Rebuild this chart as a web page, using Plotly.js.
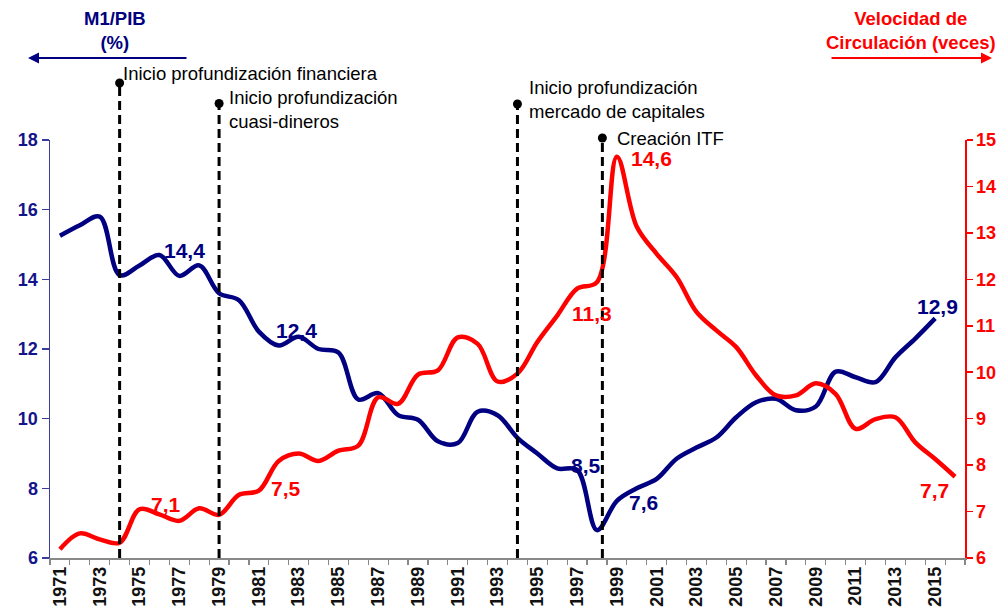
<!DOCTYPE html>
<html>
<head>
<meta charset="utf-8">
<script src="https://cdn.plot.ly/plotly-3.0.1.min.js"></script>
<style>html,body{margin:0;padding:0;background:#fff;}#chart{width:1006px;height:616px;}</style>
</head>
<body>
<div id="chart"></div>
<script>
// ---- data ----
var years = ['1971','1972','1973','1974','1975','1976','1977','1978','1979','1980',
             '1981','1982','1983','1984','1985','1986','1987','1988','1989','1990',
             '1991','1992','1993','1994','1995','1996','1997','1998','1999','2000',
             '2001','2002','2003','2004','2005','2006','2007','2008','2009','2010',
             '2011','2012','2013','2014','2015','2016'];

// M1/PIB (%) 1971-2015
var m1pib = [15.25,15.55,15.8,14.12,14.4,14.7,14.1,14.4,13.6,13.4,
             12.5,12.1,12.35,12.0,11.9,10.55,10.73,10.1,9.97,9.35,
             9.3,10.2,10.1,9.45,9.0,8.57,8.53,6.8,7.64,8.0,
             8.27,8.85,9.17,9.46,10.04,10.47,10.57,10.24,10.35,11.35,
             11.19,11.05,11.76,12.3,12.88];

// Velocidad de circulación (veces) 1971-2016
var velocidad = [6.19,6.53,6.4,6.33,7.05,6.94,6.8,7.07,6.93,7.36,
                 7.45,8.09,8.25,8.09,8.31,8.42,9.46,9.32,9.95,10.04,
                 10.75,10.61,9.8,9.97,10.65,11.22,11.8,11.94,14.64,13.13,
                 12.55,12.05,11.3,10.9,10.54,9.93,9.5,9.5,9.76,9.53,
                 8.78,8.99,9.03,8.49,8.13,7.75];

// tick labels (every other year)
var tickLabels = years.map(function(y, i){ return i % 2 === 0 ? y : ''; });

// point labels
var m1Labels = [
  {year:'1978', text:'14,4', dx:-15, dy:15},
  {year:'1983', text:'12,4', dx:-2,  dy:6},
  {year:'1997', text:'8,5',  dx:9,   dy:4},
  {year:'1999', text:'7,6',  dx:27,  dy:-2},
  {year:'2015', text:'12,9', dx:2,   dy:12}
];
var velLabels = [
  {year:'1976', text:'7,1',  dx:7,   dy:10},
  {year:'1981', text:'7,5',  dx:27,  dy:2},
  {year:'1997', text:'11,3', dx:15,  dy:-25},
  {year:'1999', text:'14,6', dx:35,  dy:-2},
  {year:'2016', text:'7,7',  dx:-21, dy:-14}
];

// events (vertical markers)
var events = [
  {pos:3,     top:83,    text:'Inicio profundización financiera', tx:1,  ty:73},
  {pos:8,     top:103.5, text:'Inicio profundización<br>cuasi-dineros', tx:8, ty:110},
  {pos:23,    top:104,   text:'Inicio profundización<br>mercado de capitales', tx:10, ty:99},
  {pos:27.27, top:138,   text:'Creación ITF', tx:13, ty:138}
];

// ---- layout helpers ----
var NAVY = '#000080', RED = '#ff0000';
var FONT = 'Arial, "Liberation Sans", sans-serif';
var M = {l:50, r:41, t:140, b:58};
var plotH = 616 - M.t - M.b;
function py(pix){ return (616 - M.b - pix) / plotH; }   // pixel y -> paper y
var plotW = 1006 - M.l - M.r;
function px(pix){ return (pix - M.l) / plotW; }         // pixel x -> paper x

var traces = [
  {x: years.slice(0, m1pib.length), y: m1pib, type:'scatter', mode:'lines',
   line:{color:NAVY, width:4.5, shape:'spline', smoothing:1}, yaxis:'y', hoverinfo:'skip'},
  {x: years, y: velocidad, type:'scatter', mode:'lines',
   line:{color:RED, width:4.5, shape:'spline', smoothing:1}, yaxis:'y2', hoverinfo:'skip'}
];

var shapes = [];
var annotations = [];

events.forEach(function(e){
  shapes.push({type:'line', xref:'x', yref:'paper', x0:e.pos, x1:e.pos, y0:0, y1:py(e.top),
               line:{color:'#000', width:3, dash:'9px,5px'}});
  shapes.push({type:'circle', xref:'x', yref:'paper', xsizemode:'pixel', ysizemode:'pixel',
               xanchor:e.pos, yanchor:py(e.top), x0:-4.5, x1:4.5, y0:-4.5, y1:4.5,
               fillcolor:'#000', line:{color:'#000', width:0}});
  annotations.push({xref:'x', yref:'paper', x:e.pos, y:py(e.ty), xanchor:'left', yanchor:'middle',
                    xshift:e.tx, text:e.text, showarrow:false, align:'left',
                    font:{family:FONT, size:18.5, color:'#000'}});
});

m1Labels.forEach(function(l){
  var i = years.indexOf(l.year);
  annotations.push({xref:'x', yref:'y', x:i, y:m1pib[i], xshift:l.dx, yshift:l.dy,
                    text:'<b>'+l.text+'</b>', showarrow:false,
                    font:{family:FONT, size:21, color:NAVY}});
});
velLabels.forEach(function(l){
  var i = years.indexOf(l.year);
  annotations.push({xref:'x', yref:'y2', x:i, y:velocidad[i], xshift:l.dx, yshift:l.dy,
                    text:'<b>'+l.text+'</b>', showarrow:false,
                    font:{family:FONT, size:21, color:RED}});
});

// axis titles with arrows
annotations.push({xref:'paper', yref:'paper', x:px(115), y:py(30.5), xanchor:'center', yanchor:'middle',
                  text:'<b>M1/PIB<br>(%)</b>', showarrow:false,
                  font:{family:FONT, size:18.5, color:NAVY}});
annotations.push({xref:'paper', yref:'paper', x:px(911), y:py(30.5), xanchor:'center', yanchor:'middle',
                  text:'<b>Velocidad de<br>Circulación (veces)</b>', showarrow:false,
                  font:{family:FONT, size:18.5, color:RED}});
annotations.push({xref:'paper', yref:'paper', x:px(28), y:py(58), text:'', showarrow:true,
                  ax:160, ay:0, arrowhead:2, arrowsize:1, arrowwidth:2.2, arrowcolor:NAVY, standoff:0});
annotations.push({xref:'paper', yref:'paper', x:px(992), y:py(58), text:'', showarrow:true,
                  ax:-162, ay:0, arrowhead:2, arrowsize:1, arrowwidth:2.2, arrowcolor:RED, standoff:0});

var layout = {
  width:1006, height:616,
  margin:M,
  paper_bgcolor:'#fff', plot_bgcolor:'#fff',
  showlegend:false,
  font:{family:FONT},
  xaxis:{type:'category', categoryorder:'array', categoryarray:years,
         range:[-0.5, years.length - 0.5],
         tickmode:'array', tickvals:years, ticktext:tickLabels,
         tickson:'boundaries', ticks:'outside', ticklen:5, tickwidth:1.2, tickcolor:'#888',
         tickangle:-90, tickfont:{family:FONT, size:18, color:'#111', weight:'bold'},
         showline:true, linecolor:'#888', linewidth:1.5, showgrid:false, zeroline:false, fixedrange:true},
  yaxis:{range:[6,18], tickmode:'linear', tick0:6, dtick:2,
         ticks:'outside', ticklen:7, tickwidth:1.5, tickcolor:'#3b3b9c',
         showline:true, linecolor:'#3b3b9c', linewidth:1.5, showgrid:false, zeroline:false,
         tickfont:{family:FONT, size:18, color:'#14148a', weight:'bold'}, fixedrange:true},
  yaxis2:{overlaying:'y', side:'right', range:[6,15], tickmode:'linear', tick0:6, dtick:1,
          ticks:'outside', ticklen:6, tickwidth:1.5, tickcolor:RED,
          showline:true, linecolor:RED, linewidth:1.5, showgrid:false, zeroline:false,
          tickfont:{family:FONT, size:18, color:RED, weight:'bold'}, fixedrange:true},
  shapes:shapes,
  annotations:annotations
};

Plotly.newPlot('chart', traces, layout, {displayModeBar:false, staticPlot:true});
</script>
</body>
</html>
